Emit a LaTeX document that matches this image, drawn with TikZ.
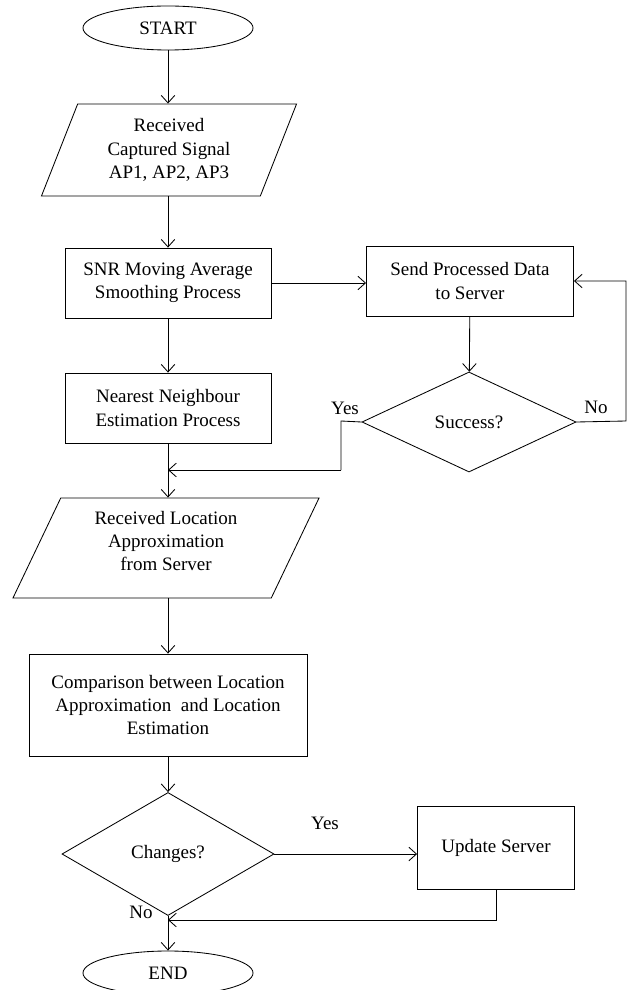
\documentclass[tikz,border=0pt]{standalone}
\usepackage{fontspec}
\setmainfont{Liberation Serif}
\usepackage{tikz}
\usetikzlibrary{
  arrows.meta,
  positioning,
  shapes,
  calc}
\tikzset{every picture/.style={font issue=\fontsize{13.5}{16.5}},
         font issue/.style={execute at begin picture={#1\selectfont}}
        }
\tikzset{
  startstop/.style={ellipse, draw, minimum width=4.25cm, minimum height=1.1cm, inner sep=0pt},
  process/.style={rectangle, draw, align=center, inner sep=2pt},
  inout/.style={trapezium, trapezium left angle=#1, trapezium right angle=180-#1,
                trapezium stretches body, draw, align=center, inner sep=1pt},
  decision/.style={diamond, draw, aspect=2, inner sep=0pt},
  answer/.style={inner sep=1pt}
}

\begin{document}
\begin{tikzpicture}[x=0.025cm, y=-0.025cm, line width=0.6pt, >={Straight Barb[length=1.9mm,width=3.4mm]}]
\useasboundingbox (0,0) rectangle (628,990);
% left column
\node[startstop] (start) at (168,28) {START};
\node[inout=61, minimum width=6.375cm, minimum height=2.3cm] (recv) at (169,150) {Received\\Captured Signal\\AP1,\ AP2,\ AP3};
\node[process, minimum width=5.15cm, minimum height=1.75cm] (snr) at (168,283) {SNR\ Moving Average\\Smoothing Process};
\node[process, minimum width=5.15cm, minimum height=1.75cm] (nn) at (168,408) {Nearest Neighbour\\Estimation\ Process};
\node[inout=58, minimum width=7.65cm, minimum height=2.5cm] (approx) at (166,548) {Received Location\\Approximation\\from\ Server\\[-6.5pt]};
\node[process, minimum width=6.95cm, minimum height=2.55cm] (cmp) at (168,705) {Comparison\ between Location\\Approximation\ \ and Location\\Estimation};
\node[decision, minimum width=5.3cm, minimum height=3.075cm] (chg) at (168,854) {Changes?};
\node[startstop] (end) at (168,973) {END};
% right column
\node[process, minimum width=5.175cm, minimum height=1.75cm] (send) at (470,281) {Send Processed Data\\to Server};
\node[decision, minimum width=5.35cm, minimum height=2.5cm] (succ) at (469,422) {Success?};
\node[process, minimum width=3.925cm, minimum height=2.075cm] (upd) at (496,848) {Update Server};
\coordinate (loop) at (626,421);
\coordinate (yesturn) at (341,421);
\coordinate (join) at (168,470);
\coordinate (merge) at (168,920);
% connectors
\draw[->] (start) -- (start |- recv.north);
\draw[->] (start |- recv.south) -- (snr.north);
\draw[->] (snr.east) -- (snr.east -| send.west);
\draw[->] (snr) -- (nn);
\draw[->] (send) -- (succ);
\draw[->] (succ.east) -- (loop) |- (send.east);
\draw (succ.west) -- (yesturn) -- (yesturn |- join);
\draw[->] (yesturn |- join) -- (join);
\draw[->] (nn.south) -- (start |- approx.north);
\draw[->] (start |- approx.south) -- (cmp.north);
\draw[->] (cmp.south) -- (chg.north);
\draw[->] (chg.east) -- (chg.east -| upd.west);
\draw[->] (upd.south) |- (merge);
\draw[->] (chg.south) -- (end.north);
% labels
\node[answer] (yes1) at (345,408) {Yes};
\node[answer] (no1) at (596,407) {No};
\node[answer] (yes2) at (325,823) {Yes};
\node[answer] (no2) at (141,912) {No};
\end{tikzpicture}
\end{document}
